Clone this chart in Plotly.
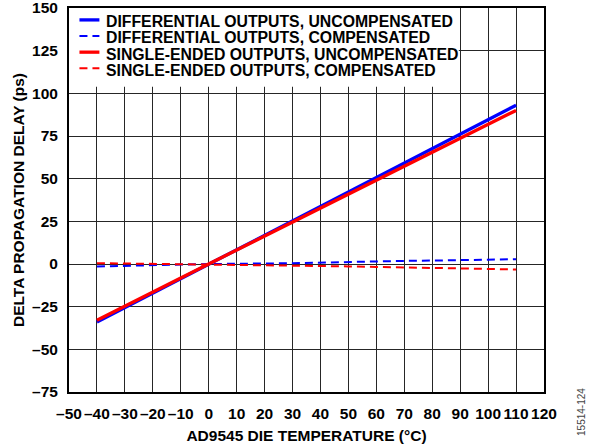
import plotly.graph_objects as go

temp_c = [-40, -30, -20, -10, 0, 10, 20, 30, 40, 50, 60, 70, 80, 90, 100, 110]

diff_uncomp = [-34, -25.5, -17, -8.5, 0, 8.5, 17, 25.5, 34, 42.5, 51, 59.5, 68, 76.5, 85, 93]
diff_comp = [-1.5, -1, -0.5, -0.3, 0, 0, 0.3, 0.5, 0.9, 1.2, 1.5, 1.8, 2.0, 2.2, 2.5, 2.8]
se_uncomp = [-33, -24.6, -16.4, -8.2, 0, 8.2, 16.4, 24.6, 32.8, 41, 49.2, 57.4, 65.6, 73.8, 82, 90]
se_comp = [0.5, 0.3, 0, 0, 0, -0.3, -0.5, -0.8, -1, -1.4, -1.7, -2, -2.3, -2.5, -2.9, -3.2]

series_names = [
    "DIFFERENTIAL OUTPUTS, UNCOMPENSATED",
    "DIFFERENTIAL OUTPUTS, COMPENSATED",
    "SINGLE-ENDED OUTPUTS, UNCOMPENSATED",
    "SINGLE-ENDED OUTPUTS, COMPENSATED",
]

x_ticks = [-50, -40, -30, -20, -10, 0, 10, 20, 30, 40, 50, 60, 70, 80, 90, 100, 110, 120]
y_ticks = [-75, -50, -25, 0, 25, 50, 75, 100, 125, 150]


def label(v):
    return ("\u2013" + str(abs(v))) if v < 0 else str(v)


BLUE = "#0000ff"
RED = "#ff0000"
FONT = "Liberation Sans, Arial, sans-serif"
DASH = "8px,5px"

styles = [
    dict(color=BLUE, width=3.3),
    dict(color=BLUE, width=2, dash=DASH),
    dict(color=RED, width=3.3),
    dict(color=RED, width=2, dash=DASH),
]

fig = go.Figure()
for name, ys, st in zip(series_names, [diff_uncomp, diff_comp, se_uncomp, se_comp], styles):
    fig.add_trace(go.Scatter(x=temp_c, y=ys, mode="lines", name=name, line=st, showlegend=False))

axis_common = dict(
    showgrid=True, gridcolor="#262626", gridwidth=1.4,
    showline=True, linecolor="#000000", linewidth=2, mirror=True,
    zeroline=False, ticks="", fixedrange=True, automargin=False,
    ticklabelstandoff=6, ticklabeloverflow="allow",
    tickfont=dict(family=FONT, size=15.5, color="#000000", weight="bold"),
    title_font=dict(family=FONT, size=15.5, color="#000000", weight="bold"),
)

fig.update_xaxes(range=[-50, 120], tickvals=x_ticks, ticktext=[label(v) for v in x_ticks],
                 title_text="AD9545 DIE TEMPERATURE (°C)", title_standoff=10, **axis_common)
fig.update_yaxes(range=[-75, 150], tickvals=y_ticks, ticktext=[label(v) for v in y_ticks],
                 title_text="DELTA PROPAGATION DELAY (ps)", title_standoff=4, **axis_common)

# legend box: white patch over the grid (above grid, below traces), then swatches and labels
shapes = [dict(type="rect", xref="x", yref="y", x0=-50, x1=89.5, y0=103.9, y1=150,
               fillcolor="#ffffff", line=dict(width=0), layer="between")]
annotations = []
swatch_y = [0.969, 0.927, 0.885, 0.843]
text_y = [0.964, 0.922, 0.879, 0.838]
for name, st, sy, ty in zip(series_names, styles, swatch_y, text_y):
    shapes.append(dict(type="line", xref="paper", yref="paper", x0=0.022, x1=0.064, y0=sy, y1=sy,
                       line=dict(color=st["color"], width=st["width"], dash=st.get("dash", "solid")),
                       layer="above"))
    annotations.append(dict(text=name, xref="paper", yref="paper", x=0.0735, y=ty,
                            xanchor="left", yanchor="middle", showarrow=False,
                            font=dict(family=FONT, size=15.8, color="#000000", weight="bold")))

annotations.append(dict(
    text="15514-124", x=1.0, y=-0.052, xref="paper", yref="paper",
    xanchor="center", yanchor="middle", xshift=38,
    textangle=-90, showarrow=False,
    font=dict(family=FONT, size=10, color="#444444"),
))

fig.update_layout(
    width=597, height=444,
    margin=dict(l=68.5, r=53, t=8, b=52),
    paper_bgcolor="#ffffff", plot_bgcolor="#ffffff",
    showlegend=False,
    shapes=shapes,
    annotations=annotations,
)

fig.write_html("out.html", config={"displayModeBar": False},
               post_script="document.body.style.margin = '0';")
